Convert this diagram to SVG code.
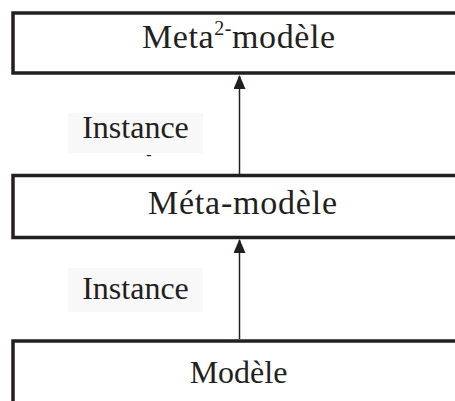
<svg xmlns="http://www.w3.org/2000/svg" width="455" height="401" viewBox="0 0 455 401">
<style>
.box{fill:#fff;stroke:#231f20;stroke-width:3.5}
.t{font-family:"Liberation Serif","Times New Roman",serif;font-size:32px;fill:#231f20;text-anchor:middle}
.lbl{fill:#f8f8f8}
.con{stroke:#231f20;stroke-width:1.5;fill:none}
</style>
<defs>
<marker id="ah" markerWidth="14" markerHeight="12" refX="13" refY="6" orient="auto" markerUnits="userSpaceOnUse">
<path d="M0,0 L14,6 L0,12 Z" fill="#231f20"/>
</marker>
</defs>
<rect width="455" height="401" fill="#fff"/>
<g id="meta2">
<rect class="box" x="13" y="13" width="460" height="60"/>
<text class="t" x="238.5" y="48" style="font-size:34px" textLength="193">Meta<tspan style="font-size:20px" dy="-13">2-</tspan><tspan dy="13">modèle</tspan></text>
</g>
<g id="metamodele">
<rect class="box" x="13" y="175.5" width="460" height="62"/>
<text class="t" x="242.5" y="214" style="font-size:34px" textLength="189">Méta-modèle</text>
</g>
<g id="modele">
<rect class="box" x="13" y="341" width="460" height="80"/>
<text class="t" x="238.5" y="383">Modèle</text>
</g>
<g id="labels">
<rect class="lbl" x="68" y="113" width="135" height="40"/>
<text class="t" x="135.5" y="138">Instance</text>
<text class="t" x="149" y="160" style="font-size:16px">-</text>
<rect class="lbl" x="68" y="268" width="135" height="44"/>
<text class="t" x="135.5" y="299">Instance</text>
</g>
<g id="connectors">
<line class="con" x1="239.5" y1="174" x2="239.5" y2="76" marker-end="url(#ah)"/>
<line class="con" x1="239.5" y1="339" x2="239.5" y2="240" marker-end="url(#ah)"/>
</g>
</svg>
